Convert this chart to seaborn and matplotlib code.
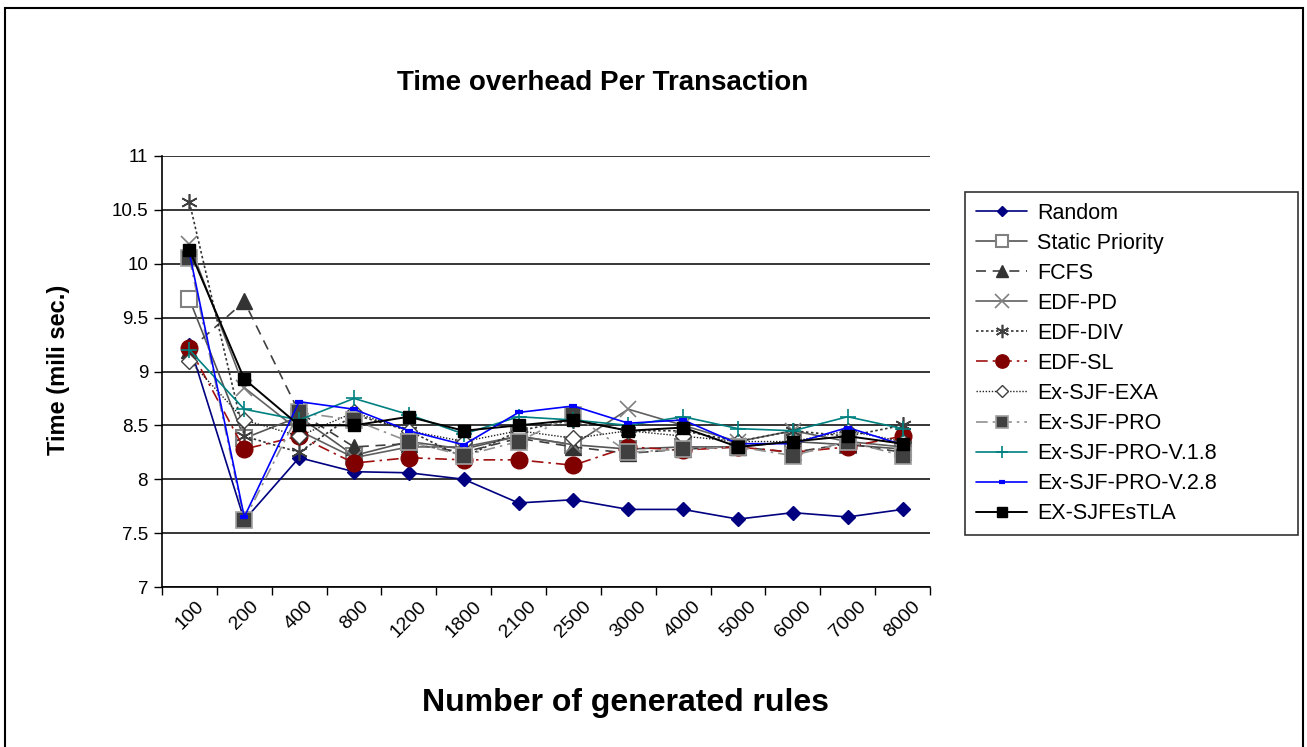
import matplotlib
matplotlib.use("Agg")
import matplotlib.pyplot as plt
import seaborn as sns
import numpy as np
import pandas as pd
from matplotlib.patches import Rectangle

categories = ["100", "200", "400", "800", "1200", "1800", "2100", "2500",
              "3000", "4000", "5000", "6000", "7000", "8000"]

random_v   = [9.25, 7.62, 8.20, 8.07, 8.06, 8.00, 7.78, 7.81, 7.72, 7.72, 7.63, 7.69, 7.65, 7.72]
static_v   = [9.67, 8.38, 8.58, 8.22, 8.35, 8.28, 8.40, 8.32, 8.28, 8.30, 8.30, 8.35, 8.32, 8.28]
fcfs_v     = [9.20, 9.65, 8.62, 8.30, 8.33, 8.25, 8.38, 8.30, 8.24, 8.28, 8.30, 8.25, 8.33, 8.25]
edfpd_v    = [10.18, 8.85, 8.45, 8.20, 8.30, 8.30, 8.40, 8.32, 8.65, 8.50, 8.35, 8.45, 8.35, 8.30]
edfdiv_v   = [10.57, 8.40, 8.25, 8.60, 8.45, 8.20, 8.45, 8.55, 8.45, 8.45, 8.35, 8.45, 8.40, 8.50]
edfsl_v    = [9.22, 8.28, 8.40, 8.15, 8.20, 8.18, 8.18, 8.13, 8.30, 8.27, 8.30, 8.25, 8.30, 8.40]
exa_v      = [9.10, 8.55, 8.40, 8.62, 8.45, 8.35, 8.45, 8.38, 8.45, 8.40, 8.35, 8.35, 8.45, 8.35]
pro_v      = [10.05, 7.62, 8.62, 8.55, 8.35, 8.22, 8.35, 8.60, 8.25, 8.28, 8.30, 8.22, 8.35, 8.22]
v18_v      = [9.20, 8.65, 8.55, 8.75, 8.60, 8.42, 8.58, 8.55, 8.50, 8.58, 8.47, 8.45, 8.58, 8.47]
v28_v      = [10.10, 7.65, 8.72, 8.65, 8.45, 8.32, 8.62, 8.68, 8.52, 8.55, 8.33, 8.33, 8.48, 8.32]
tla_v      = [10.13, 8.93, 8.50, 8.50, 8.58, 8.45, 8.50, 8.55, 8.45, 8.48, 8.30, 8.35, 8.40, 8.33]

series_names = ["Random", "Static Priority", "FCFS", "EDF-PD", "EDF-DIV", "EDF-SL",
                "Ex-SJF-EXA", "Ex-SJF-PRO", "Ex-SJF-PRO-V.1.8", "Ex-SJF-PRO-V.2.8", "EX-SJFEsTLA"]
series_vals = [random_v, static_v, fcfs_v, edfpd_v, edfdiv_v, edfsl_v,
               exa_v, pro_v, v18_v, v28_v, tla_v]

yticks = [7, 7.5, 8, 8.5, 9, 9.5, 10, 10.5, 11]

styles = {
    "Random": dict(color="#000080", linestyle="-", lw=1.2, marker="D", ms=7, mfc="#000080", mec="#000080", mew=1),
    "Static Priority": dict(color="#555555", linestyle="-", lw=1.2, marker="s", ms=11, mfc="white", mec="#808080", mew=1.5),
    "FCFS": dict(color="#404040", linestyle=(0, (6, 4)), lw=1.2, marker="^", ms=11, mfc="#333333", mec="#333333", mew=1),
    "EDF-PD": dict(color="#606060", linestyle="-", lw=1.2, marker="x", ms=12, mfc="#808080", mec="#808080", mew=1.2),
    "EDF-DIV": dict(color="#333333", linestyle=(0, (1.5, 1.5)), lw=1.2, marker=(6, 2, 0), ms=12, mfc="#404040", mec="#404040", mew=1.2),
    "EDF-SL": dict(color="#A01010", linestyle=(0, (7, 3, 1.5, 3)), lw=1.2, marker="o", ms=12, mfc="#800000", mec="#800000", mew=1),
    "Ex-SJF-EXA": dict(color="#222222", linestyle=(0, (1, 1.2)), lw=1.0, marker="D", ms=8, mfc="white", mec="#404040", mew=1),
    "Ex-SJF-PRO": dict(color="#909090", linestyle=(0, (7, 3, 1.5, 3)), lw=1.2, marker="s", ms=11, mfc="#404040", mec="#a0a0a0", mew=1.2),
    "Ex-SJF-PRO-V.1.8": dict(color="#008080", linestyle="-", lw=1.2, marker="+", ms=11, mfc="#008080", mec="#008080", mew=1.2),
    "Ex-SJF-PRO-V.2.8": dict(color="#0000FF", linestyle="-", lw=1.2, marker="_", ms=6, mfc="#0000FF", mec="#0000FF", mew=3),
    "EX-SJFEsTLA": dict(color="#000000", linestyle="-", lw=1.4, marker="s", ms=9, mfc="#000000", mec="#000000", mew=1),
}

sns.set_theme(style="white")
plt.rcParams["font.family"] = ["Liberation Sans", "DejaVu Sans"]
plt.rcParams["text.color"] = "black"
plt.rcParams["axes.labelcolor"] = "black"
plt.rcParams["xtick.color"] = "black"
plt.rcParams["ytick.color"] = "black"

fig = plt.figure(figsize=(13.07, 7.47), dpi=100)
fig.patch.set_facecolor("white")
ax = fig.add_axes([162 / 1307, 1 - 587 / 747, (930 - 162) / 1307, (587 - 156) / 747])

for name, vals in zip(series_names, series_vals):
    st = styles[name]
    sns.lineplot(x=categories, y=vals, ax=ax, sort=False, label=name,
                 color=st["color"], linestyle=st["linestyle"], linewidth=st["lw"],
                 marker=st["marker"], markersize=st["ms"], markerfacecolor=st["mfc"],
                 markeredgecolor=st["mec"], markeredgewidth=st["mew"], legend=False)

ax.set_xlim(-0.5, len(categories) - 0.5)
ax.set_ylim(7, 11)
ax.set_yticks(yticks)
ax.set_yticklabels([f"{t:g}" for t in yticks], fontsize=13.5, color="black")
ax.yaxis.grid(True, color="black", linewidth=1.1)
ax.xaxis.grid(False)
ax.set_axisbelow(True)
for s in ["top", "right"]:
    ax.spines[s].set_visible(False)
ax.spines["left"].set_color("black")
ax.spines["left"].set_linewidth(1.2)
ax.spines["bottom"].set_color("black")
ax.spines["bottom"].set_linewidth(1.2)
ax.tick_params(axis="y", which="major", direction="out", length=6, width=1, color="black", left=True, pad=4)
ax.set_xticks(range(len(categories)))
ax.set_xticklabels(categories, rotation=45, fontsize=14, ha="center", color="black")
ax.tick_params(axis="x", which="major", length=0, pad=8)
ax.set_xticks(np.arange(-0.5, len(categories), 1.0), minor=True)
ax.tick_params(axis="x", which="minor", direction="out", length=6, width=1, color="black", bottom=True)
ax.set_xlabel("")
ax.set_ylabel("")

fig.text(603 / 1307, 1 - 83 / 747, "Time overhead Per Transaction", ha="center", va="center",
         fontsize=20, fontweight="bold", color="black")
fig.text(58 / 1307, 1 - 370 / 747, "Time (mili sec.)", ha="center", va="center",
         rotation=90, fontsize=17, fontweight="bold", color="black")
fig.text(625 / 1307, 1 - 703 / 747, "Number of generated rules", ha="center", va="center",
         fontsize=23, fontweight="bold", color="black")

handles, labels = ax.get_legend_handles_labels()
leg = fig.legend(handles, labels, loc="upper left",
                 bbox_to_anchor=(965 / 1307, 1 - 537 / 747, (1298 - 965) / 1307, (537 - 192) / 747),
                 mode="expand", fontsize=15.5, markerscale=0.8,
                 frameon=True, fancybox=False, shadow=False, edgecolor="black",
                 handlelength=2.4, labelspacing=0.42, borderpad=0.5, handletextpad=0.45,
                 borderaxespad=0)
leg.get_frame().set_linewidth(1.2)
for t in leg.get_texts():
    t.set_color("black")

fig.add_artist(Rectangle((5 / 1307, -0.01), (1303 - 5) / 1307, 1 - 8 / 747 + 0.01,
                         transform=fig.transFigure, fill=False, edgecolor="black", linewidth=1.5))

fig.savefig("out.png", dpi=100, facecolor="white")
